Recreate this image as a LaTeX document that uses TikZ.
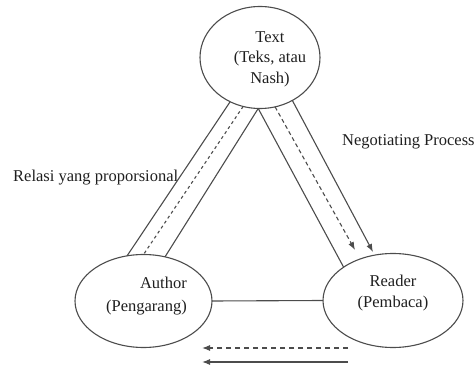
\documentclass[tikz,border=0pt]{standalone}
\usepackage{fontspec}
\setmainfont{Liberation Serif}
\usetikzlibrary{arrows.meta,shapes.geometric}
\definecolor{lc}{gray}{0.3}
\definecolor{tc}{gray}{0.12}
\begin{document}
\begin{tikzpicture}[x=1pt,y=-1pt,
  ell/.style={draw=lc, line width=1.1pt, ellipse, inner sep=0pt, outer sep=0pt},
  lbl/.style={text=tc, font=\fontsize{16.5}{20.5}\selectfont, inner sep=0pt},
  band/.style={draw=lc, line width=1.1pt},
  dshA/.style={band, dash pattern=on 3pt off 3pt},
  dshB/.style={band, dash pattern=on 4pt off 3pt},
  dshC/.style={band, dash pattern=on 5pt off 4pt},
  tip/.style={-{Latex[length=8pt,width=6pt]}}
]
\useasboundingbox (0,0) rectangle (475,369);
\node[ell, minimum width=120pt, minimum height=102pt] (T) at (260,57.5) {};
\node[ell, minimum width=137pt, minimum height=93pt] (A) at (143.5,301) {};
\node[ell, minimum width=140pt, minimum height=94pt] (R) at (393,300.5) {};

\node[lbl, align=center] (tT) at (270,59.3) {Text\\(Teks, atau\\Nash)};
\node[lbl, align=right, anchor=east] (tA) at (187,295.6) {Author\\[2.5pt](Pengarang)};
\node[lbl, align=center] (tR) at (393,293.2) {Reader\\(Pembaca)};
\node[lbl, anchor=base west] (neg) at (342,145.7) {Negotiating Process};
\node[lbl, anchor=base west] (rel) at (13,181.7) {Relasi yang proporsional};

\draw[band] (T.236) -- (A.110.1);
\draw[band] (T.268) -- (A.64);
\draw[dshA] (T.251) -- (A.90);
\draw[band] (T.268) -- (R.146.7);
\coordinate (rt1) at (355,250);
\coordinate (rt2) at (373,252);
\draw[dshB, tip] (T.-73) -- (rt1);
\draw[band, tip] (T.-53) -- (rt2);
\draw[band] (A.east) -- (R.west);

\coordinate (b1s) at (348,348);
\coordinate (b1e) at (202,348);
\coordinate (b2s) at (348,362);
\coordinate (b2e) at (202,362);
\draw[dshC, tip] (b1s) -- (b1e);
\draw[band, tip] (b2s) -- (b2e);
\end{tikzpicture}
\end{document}
